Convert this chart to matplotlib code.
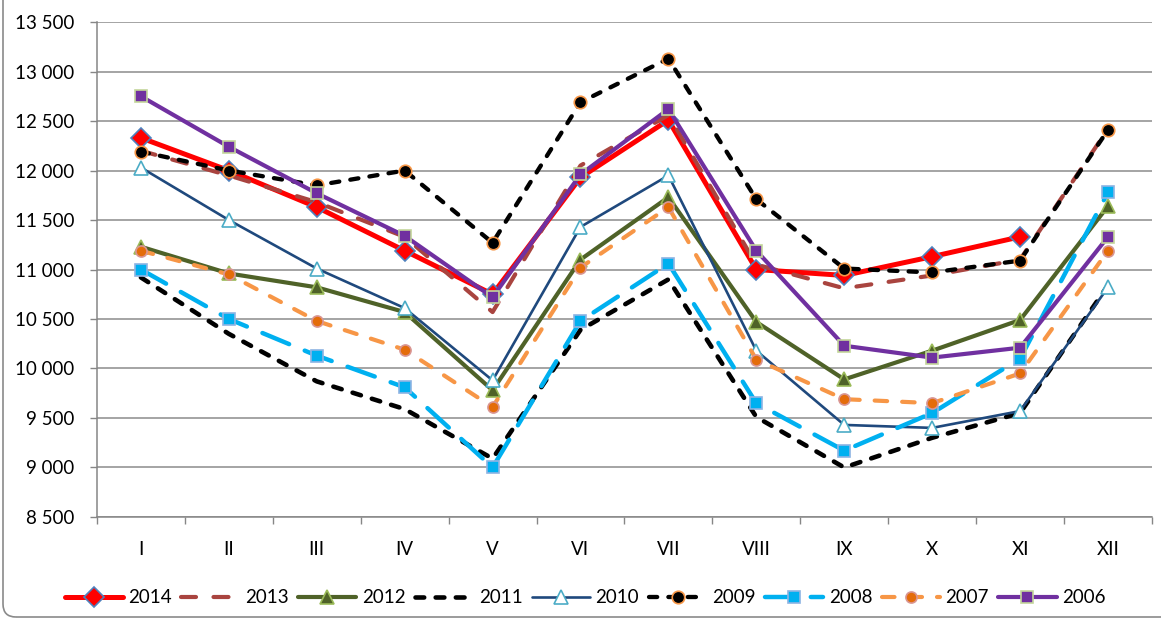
import numpy as np
import matplotlib.pyplot as plt
from matplotlib.patches import FancyBboxPatch

plt.rcParams['font.family'] = ['Lato', 'DejaVu Sans']

months = ['I', 'II', 'III', 'IV', 'V', 'VI', 'VII', 'VIII', 'IX', 'X', 'XI', 'XII']
years = ['2014', '2013', '2012', '2011', '2010', '2009', '2008', '2007', '2006']

v2014 = [12330, 12000, 11630, 11190, 10750, 11930, 12510, 11000, 10940, 11130, 11330, np.nan]
v2013 = [12200, 11950, 11680, 11330, 10570, 12050, 12560, 11050, 10810, 10940, 11100, 12420]
v2012 = [11230, 10960, 10820, 10570, 9780, 11100, 11730, 10470, 9890, 10180, 10490, 11640]
v2011 = [10920, 10350, 9870, 9590, 9090, 10390, 10900, 9510, 9000, 9300, 9550, 10840]
v2010 = [12030, 11500, 11010, 10610, 9880, 11430, 11950, 10180, 9430, 9400, 9570, 10820]
v2009 = [12190, 12000, 11850, 12000, 11270, 12690, 13130, 11710, 11010, 10970, 11090, 12410]
v2008 = [11000, 10500, 10130, 9810, 9000, 10480, 11060, 9650, 9170, 9550, 10100, 11780]
v2007 = [11190, 10950, 10480, 10190, 9610, 11020, 11630, 10090, 9690, 9650, 9950, 11190]
v2006 = [12750, 12240, 11770, 11340, 10720, 11960, 12620, 11190, 10230, 10110, 10210, 11330]

series = [v2014, v2013, v2012, v2011, v2010, v2009, v2008, v2007, v2006]

# line colour, width, dash, marker, face, edge, size
styles = [
    ('#FF0000', 3.6, '-', 'D', '#FF0000', '#4F81BD', 10),
    ('#A9443F', 3.0, (0, (3.6, 4.2)), None, None, None, 0),
    ('#4F6228', 3.0, '-', '^', '#4F6228', '#9BBB59', 10),
    ('#000000', 3.3, (0, (1.9, 2.5)), None, None, None, 0),
    ('#1F497D', 1.9, '-', '^', 'white', '#4BACC6', 10),
    ('#000000', 3.1, (0, (1.9, 2.6)), 'o', '#000000', '#F79646', 9),
    ('#00B0F0', 3.2, (0, (6.5, 3.8)), 's', '#00B0F0', '#8EB4E3', 9),
    ('#F79646', 3.0, (0, (3.0, 3.6)), 'o', '#E46C0A', '#D99694', 8),
    ('#7030A0', 3.0, '-', 's', '#7030A0', '#C3D69B', 9),
]

fig = plt.figure(figsize=(11.61, 6.24), dpi=100)
ax = fig.add_axes([0.0835, 0.1715, 0.9087, 0.7932])

x = np.arange(len(months))
handles = []
for vals, name, st in zip(series, years, styles):
    col, lw, ls, mk, fc, ec, ms = st
    h, = ax.plot(x, vals, color=col, lw=lw, linestyle=ls, dash_capstyle='round',
                 solid_capstyle='round', marker=mk, markerfacecolor=fc,
                 markeredgecolor=ec, markersize=ms, markeredgewidth=1.2, label=name)
    handles.append(h)

ax.set_xlim(-0.5, 11.5)
ax.set_ylim(8500, 13500)
ax.set_yticks(np.arange(8500, 13501, 500))
ax.set_yticklabels([f'{v:,}'.replace(',', ' ') for v in range(8500, 13501, 500)], fontsize=13.5)
ax.set_xticks(x)
ax.set_xticklabels(months, fontsize=13.5)
ax.set_xticks(np.arange(-0.5, 12, 1), minor=True)
ax.tick_params(axis='x', which='major', length=0, pad=17)
ax.tick_params(axis='x', which='minor', length=5, color='#868686', width=1)
ax.tick_params(axis='y', length=5, color='#868686', width=1, pad=11)
ax.yaxis.grid(True, color='#8C8C8C', lw=1.1)
ax.set_axisbelow(True)
for s in ['top', 'right']:
    ax.spines[s].set_visible(False)
for s in ['left', 'bottom']:
    ax.spines[s].set_color('#868686')
    ax.spines[s].set_linewidth(1.1)

fig.legend(handles=handles, loc='center', bbox_to_anchor=(0.504, 0.042), ncol=9,
           frameon=False, fontsize=13.5, handlelength=3.1, handletextpad=0.3,
           columnspacing=0.5, numpoints=1)

frame = FancyBboxPatch((0.03, 0.07), 12.0, 7.0, boxstyle='round,pad=0,rounding_size=0.13',
                       transform=fig.dpi_scale_trans, fill=False, edgecolor='#8A8A8A', lw=1.2)
fig.add_artist(frame)

plt.savefig('out.png', dpi=100)
